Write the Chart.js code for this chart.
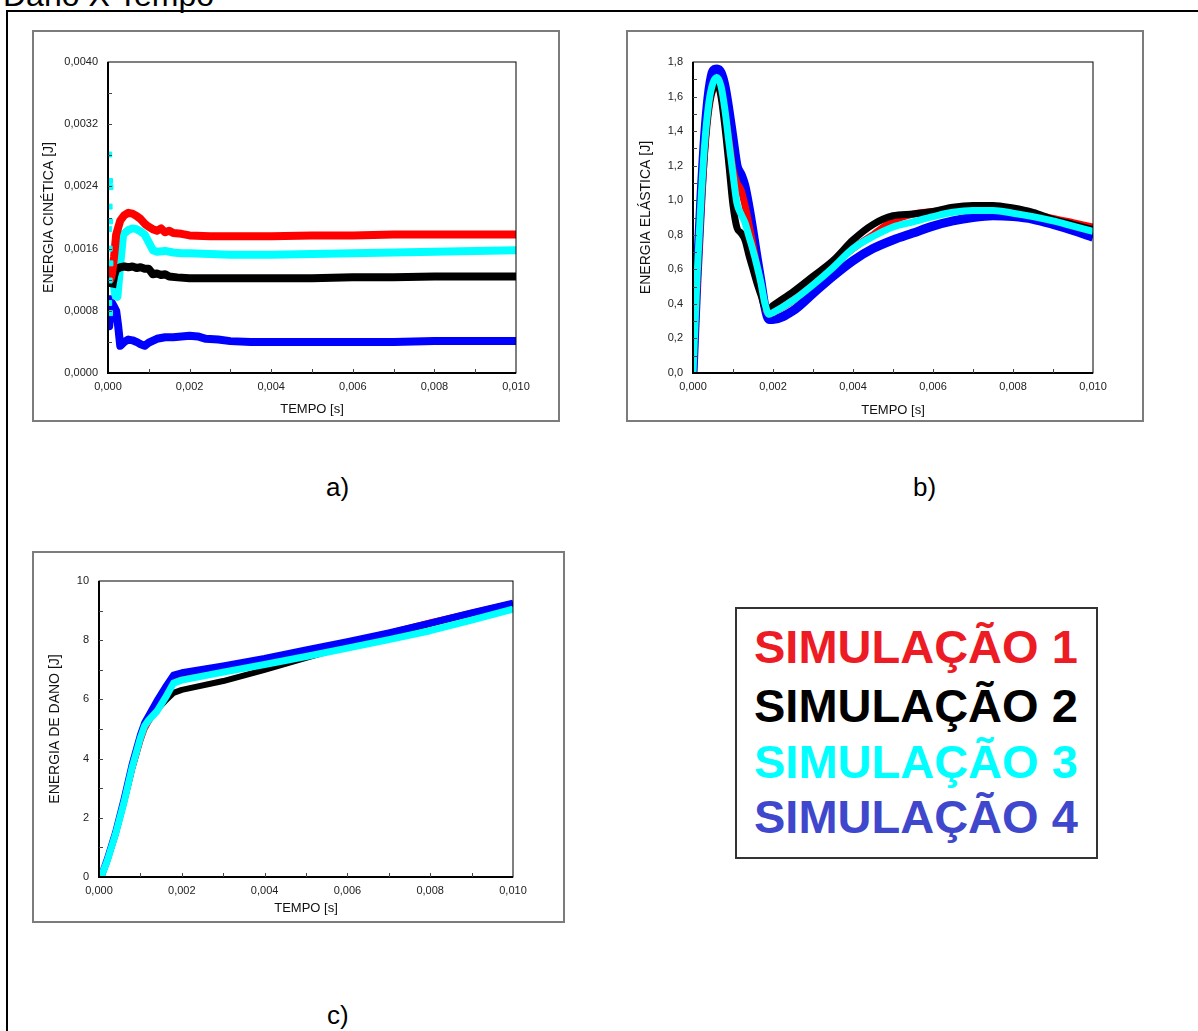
<!DOCTYPE html>
<html>
<head>
<meta charset="utf-8">
<script src="https://cdn.jsdelivr.net/npm/chart.js@4.4.1/dist/chart.umd.min.js"></script>
<style>
body { margin: 0; background: #fff; font-family: "Liberation Sans", Arial, sans-serif; }
#page { position: relative; width: 1198px; height: 1031px; overflow: hidden; background: #fff; }
.frame { position: absolute; left: 6px; top: 10px; width: 1210px; height: 1050px; border: 2px solid #000; }
.box { position: absolute; border: 2px solid #7c7c7c; box-sizing: border-box; }
canvas { position: absolute; }
.txt { position: absolute; white-space: nowrap; line-height: 1; color: #000; }
.leg { position: absolute; left: 754px; font-weight: bold; font-size: 47px; line-height: 1; white-space: nowrap; }
</style>
</head>
<body>
<div id="page">
  <div class="frame"></div>
  <div class="txt" style="left:3px; top:-21px; font-size:32px;">Dano X Tempo</div>

  <div class="box" style="left:32px; top:30px; width:528px; height:392px;"></div>
  <canvas id="kinChart" width="527" height="391" style="left:32px; top:30px;"></canvas>

  <div class="box" style="left:626px; top:30px; width:518px; height:392px;"></div>
  <canvas id="elasChart" width="517" height="391" style="left:626px; top:30px;"></canvas>

  <div class="box" style="left:32px; top:551px; width:533px; height:372px;"></div>
  <canvas id="damChart" width="532" height="371" style="left:32px; top:551px;"></canvas>

  <div class="txt" style="left:326px; top:474px; font-size:26px;">a)</div>
  <div class="txt" style="left:913px; top:474px; font-size:26px;">b)</div>
  <div class="txt" style="left:327px; top:1002px; font-size:26px;">c)</div>

  <div class="box" style="left:735px; top:607px; width:363px; height:252px; border-color:#333;"></div>
  <div class="leg" style="top:623px; color:#ed1c24;">SIMULAÇÃO 1</div>
  <div class="leg" style="top:682px; color:#000;">SIMULAÇÃO 2</div>
  <div class="leg" style="top:738px; color:#00ffff;">SIMULAÇÃO 3</div>
  <div class="leg" style="top:793px; color:#3f48cc;">SIMULAÇÃO 4</div>
</div>

<script>
// tempo / time axis shared by all three charts
const timeTicks = [0, 0.002, 0.004, 0.006, 0.008, 0.010];
const timeLabels = ["0,000", "0,002", "0,004", "0,006", "0,008", "0,010"];

// a) energia cinetica
const kinTicks = [0, 0.0008, 0.0016, 0.0024, 0.0032, 0.0040];
const kinLabels = ["0,0000", "0,0008", "0,0016", "0,0024", "0,0032", "0,0040"];

const kinTime1 = [0.00005, 0.0001, 0.00015, 0.0002, 0.0003, 0.0004, 0.0005, 0.0006, 0.0007, 0.0008, 0.0009, 0.001, 0.0011, 0.0012, 0.0013, 0.0014, 0.0015, 0.0016, 0.0018, 0.002, 0.0025, 0.003, 0.004, 0.005, 0.006, 0.007, 0.008, 0.009, 0.01];
const kinSim1 = [0.00118, 0.00128, 0.0015, 0.00178, 0.00196, 0.00203, 0.00206, 0.00205, 0.00202, 0.00198, 0.00192, 0.00188, 0.00185, 0.00183, 0.00186, 0.00181, 0.00183, 0.0018, 0.00179, 0.00177, 0.00176, 0.00176, 0.00176, 0.00177, 0.00177, 0.00178, 0.00178, 0.00178, 0.00178];

const kinTime2 = [0.0001, 0.00015, 0.0002, 0.0003, 0.0004, 0.0005, 0.0006, 0.0007, 0.0008, 0.0009, 0.001, 0.0011, 0.0012, 0.0013, 0.0014, 0.0015, 0.0017, 0.002, 0.003, 0.004, 0.005, 0.006, 0.007, 0.008, 0.009, 0.01];
const kinSim2 = [0.0011, 0.00125, 0.00133, 0.00136, 0.00137, 0.00136, 0.00137, 0.00135, 0.00136, 0.00134, 0.00134, 0.00127, 0.00128, 0.00126, 0.00127, 0.00124, 0.00123, 0.00122, 0.00122, 0.00122, 0.00122, 0.00123, 0.00123, 0.00124, 0.00124, 0.00124];

const kinTime3 = [0.00012, 0.00018, 0.00023, 0.0003, 0.00037, 0.0005, 0.0006, 0.0007, 0.0008, 0.0009, 0.001, 0.0011, 0.0012, 0.0014, 0.0016, 0.0018, 0.002, 0.0025, 0.003, 0.004, 0.005, 0.006, 0.007, 0.008, 0.009, 0.01];
const kinSim3 = [0.0012, 0.001, 0.00098, 0.0014, 0.00178, 0.00184, 0.00186, 0.00185, 0.00182, 0.00178, 0.00168, 0.00158, 0.00156, 0.00157, 0.00155, 0.00154, 0.00154, 0.00153, 0.00152, 0.00152, 0.00153, 0.00154, 0.00155, 0.00156, 0.00157, 0.00158];
const kinMarkTime3 = [0.00003, 0.00005, 0.00006, 0.00004, 0.00005, 0.00003, 0.00004, 0.00006, 0.00004, 0.00003, 0.00005];
const kinMark3 = [0.00281, 0.00247, 0.00239, 0.00214, 0.00195, 0.00185, 0.0016, 0.00141, 0.00119, 0.0009, 0.00077];

const kinTime4 = [0.00001, 0.00003, 0.00006, 0.0001, 0.00015, 0.0002, 0.00025, 0.0003, 0.0004, 0.0005, 0.0006, 0.0007, 0.0008, 0.0009, 0.001, 0.0012, 0.0014, 0.0016, 0.0018, 0.002, 0.0022, 0.0024, 0.0027, 0.003, 0.0035, 0.004, 0.005, 0.006, 0.007, 0.008, 0.009, 0.01];
const kinSim4 = [0.001, 0.0006, 0.00085, 0.0009, 0.00085, 0.0008, 0.0006, 0.00035, 0.0004, 0.00043, 0.00042, 0.0004, 0.00037, 0.00035, 0.00039, 0.00044, 0.00046, 0.00046, 0.00047, 0.00048, 0.00047, 0.00044, 0.00043, 0.00041, 0.0004, 0.0004, 0.0004, 0.0004, 0.0004, 0.00041, 0.00041, 0.00041];

// b) energia elastica
const elasTicks = [0, 0.2, 0.4, 0.6, 0.8, 1.0, 1.2, 1.4, 1.6, 1.8];
const elasLabels = ["0,0", "0,2", "0,4", "0,6", "0,8", "1,0", "1,2", "1,4", "1,6", "1,8"];
const elasTime = [0, 0.0001, 0.0002, 0.0003, 0.0004, 0.0005, 0.0006, 0.0007, 0.0008, 0.0009, 0.001, 0.0011, 0.0012, 0.0013, 0.0014, 0.0015, 0.0016, 0.0017, 0.0018, 0.0019, 0.002,
  0.0025, 0.003, 0.0035, 0.004, 0.0045, 0.005, 0.0055, 0.006, 0.0065, 0.007, 0.0075, 0.008, 0.0085, 0.009, 0.0095, 0.01];
const elasSim1 = [0, 0.5, 0.95, 1.3, 1.53, 1.64, 1.66, 1.62, 1.5, 1.35, 1.18, 1.1, 1.06, 0.97, 0.86, 0.74, 0.62, 0.5, 0.38, 0.34, 0.35,
  0.42, 0.52, 0.62, 0.72, 0.8, 0.88, 0.92, 0.935, 0.945, 0.95, 0.945, 0.935, 0.915, 0.895, 0.87, 0.845];
const elasSim2 = [0, 0.55, 1.0, 1.33, 1.55, 1.65, 1.68, 1.6, 1.42, 1.2, 0.97, 0.84, 0.81, 0.77, 0.68, 0.6, 0.52, 0.45, 0.38, 0.37, 0.39,
  0.47, 0.56, 0.65, 0.77, 0.86, 0.91, 0.92, 0.935, 0.96, 0.97, 0.97, 0.955, 0.93, 0.89, 0.86, 0.83];
const elasSim3 = [0, 0.55, 1.0, 1.35, 1.57, 1.68, 1.71, 1.66, 1.52, 1.33, 1.15, 0.98, 0.92, 0.87, 0.79, 0.71, 0.62, 0.52, 0.4, 0.34, 0.35,
  0.42, 0.51, 0.61, 0.72, 0.79, 0.845, 0.875, 0.905, 0.93, 0.94, 0.94, 0.925, 0.905, 0.88, 0.85, 0.82];
const elasSim4 = [0, 0.55, 1.02, 1.4, 1.64, 1.75, 1.76, 1.74, 1.66, 1.52, 1.36, 1.2, 1.15, 1.08, 0.96, 0.82, 0.67, 0.53, 0.38, 0.31, 0.31,
  0.36, 0.46, 0.56, 0.65, 0.72, 0.77, 0.81, 0.85, 0.88, 0.9, 0.91, 0.905, 0.89, 0.86, 0.825, 0.785];

// c) energia de dano
const damTicks = [0, 2, 4, 6, 8, 10];
const damLabels = ["0", "2", "4", "6", "8", "10"];
const damTime = [0.00005, 0.0002, 0.0004, 0.0006, 0.0008, 0.001, 0.0011, 0.0012, 0.0014, 0.0016, 0.0018, 0.002, 0.003, 0.004, 0.005, 0.006, 0.007, 0.008, 0.009, 0.01];
const damSim1 = [0, 0.55, 1.45, 2.5, 3.65, 4.6, 5.0, 5.25, 5.7, 6.2, 6.68, 6.78, 7.05, 7.32, 7.62, 7.93, 8.25, 8.6, 8.93, 9.25];
const damSim2 = [0, 0.55, 1.45, 2.5, 3.65, 4.65, 5.05, 5.3, 5.65, 5.95, 6.22, 6.32, 6.62, 7.0, 7.4, 7.8, 8.18, 8.55, 8.9, 9.22];
const damSim3 = [0, 0.55, 1.45, 2.5, 3.7, 4.7, 5.1, 5.3, 5.6, 6.05, 6.55, 6.65, 6.92, 7.18, 7.45, 7.73, 8.02, 8.32, 8.68, 9.05];
const damSim4 = [0, 0.6, 1.5, 2.6, 3.8, 4.8, 5.2, 5.45, 5.95, 6.4, 6.82, 6.9, 7.13, 7.38, 7.67, 7.95, 8.25, 8.58, 8.92, 9.25];

const RED = "#ff0000", BLACK = "#000000", CYAN = "#00ffff", BLUE = "#0000ff";

Chart.defaults.font.family = '"Liberation Sans", Arial, sans-serif';
Chart.defaults.color = "#222";
Chart.defaults.animation = false;

function points(times, values) {
  return times.map((t, i) => ({ x: t, y: values[i] }));
}

function line(times, values, color, width, order, tension) {
  return {
    data: points(times, values),
    borderColor: color,
    backgroundColor: color,
    borderWidth: width,
    pointRadius: 0,
    tension: tension || 0,
    cubicInterpolationMode: tension ? "monotone" : "default",
    borderJoinStyle: "round",
    order: order
  };
}

// plot frame plus the small inward tick marks
const framePlugin = {
  id: "frame",
  afterDatasetsDraw(chart, args, opts) {
    const { ctx, chartArea: a, scales: { x, y } } = chart;
    ctx.save();
    ctx.strokeStyle = "#000";
    ctx.lineWidth = 1;
    ctx.strokeRect(a.left, a.top, a.right - a.left, a.bottom - a.top);
    ctx.lineWidth = 2;
    ctx.beginPath();
    ctx.moveTo(a.left, a.top);
    ctx.lineTo(a.left, a.bottom);
    ctx.lineTo(a.right, a.bottom);
    ctx.stroke();
    ctx.lineWidth = 1;
    ctx.strokeStyle = "#444";
    ctx.beginPath();
    let n = Math.round((x.max - x.min) / opts.xStep);
    for (let i = 1; i < n; i++) {
      const px = Math.round(x.getPixelForValue(x.min + i * opts.xStep)) + 0.5;
      ctx.moveTo(px, a.bottom);
      ctx.lineTo(px, a.bottom - 4);
    }
    n = Math.round((y.max - y.min) / opts.yStep);
    for (let i = 1; i < n; i++) {
      const py = Math.round(y.getPixelForValue(y.min + i * opts.yStep)) + 0.5;
      ctx.moveTo(a.left, py);
      ctx.lineTo(a.left + 4, py);
    }
    ctx.stroke();
    ctx.restore();
  }
};

function makeChart(id, datasets, cfg) {
  return new Chart(document.getElementById(id), {
    type: "line",
    data: { datasets: datasets },
    options: {
      responsive: false,
      layout: { padding: cfg.pad },
      plugins: {
        legend: { display: false },
        tooltip: { enabled: false },
        frame: { xStep: 0.001, yStep: cfg.yStep }
      },
      scales: {
        x: {
          type: "linear",
          min: 0,
          max: 0.01,
          grid: { display: false, drawTicks: false },
          border: { display: false },
          afterBuildTicks: s => { s.ticks = timeTicks.map(v => ({ value: v })); },
          afterFit: s => { s.height = cfg.xHeight; },
          ticks: {
            padding: 7,
            maxRotation: 0,
            font: { size: 11 },
            color: "#222",
            callback: (v, i) => timeLabels[i]
          },
          title: {
            display: true,
            text: "TEMPO [s]",
            color: "#111",
            font: { size: 13 },
            padding: { top: 0, bottom: cfg.xTitlePad }
          }
        },
        y: {
          type: "linear",
          min: cfg.yTicks[0],
          max: cfg.yTicks[cfg.yTicks.length - 1],
          grid: { display: false, drawTicks: false },
          border: { display: false },
          afterBuildTicks: s => { s.ticks = cfg.yTicks.map(v => ({ value: v })); },
          afterFit: s => { s.width = cfg.yWidth; },
          ticks: {
            padding: 10,
            font: { size: 11 },
            color: "#222",
            callback: (v, i) => cfg.yLabels[i]
          },
          title: {
            display: true,
            text: cfg.yTitle,
            color: "#111",
            font: { size: 14 },
            padding: { top: cfg.yTitlePad, bottom: 0 }
          }
        }
      }
    },
    plugins: [framePlugin]
  });
}

const kinMarks = {
  data: points(kinMarkTime3, kinMark3),
  showLine: false,
  pointStyle: "rect",
  pointRadius: 3.5,
  pointBackgroundColor: CYAN,
  pointBorderColor: CYAN,
  borderColor: CYAN,
  order: 0
};

makeChart("kinChart", [
  line(kinTime1, kinSim1, RED, 8, 1),
  line(kinTime2, kinSim2, BLACK, 8, 1),
  line(kinTime3, kinSim3, CYAN, 8, 1),
  line(kinTime4, kinSim4, BLUE, 8, 1),
  kinMarks
], {
  pad: { left: 0, top: 32, right: 43, bottom: 0 },
  yTicks: kinTicks, yLabels: kinLabels, yStep: 0.0004,
  yTitle: "ENERGIA CINÉTICA [J]",
  yWidth: 76, xHeight: 48, yTitlePad: 9, xTitlePad: 4
});

makeChart("elasChart", [
  line(elasTime, elasSim4, BLUE, 9, 3, 0.4),
  line(elasTime, elasSim1, RED, 7, 2, 0.4),
  line(elasTime, elasSim2, BLACK, 7, 1, 0.4),
  line(elasTime, elasSim3, CYAN, 7, 0, 0.4)
], {
  pad: { left: 0, top: 32, right: 50, bottom: 0 },
  yTicks: elasTicks, yLabels: elasLabels, yStep: 0.1,
  yTitle: "ENERGIA ELÁSTICA [J]",
  yWidth: 67, xHeight: 48, yTitlePad: 12, xTitlePad: 3
});

makeChart("damChart", [
  line(damTime, damSim2, BLACK, 6, 3),
  line(damTime, damSim1, RED, 6, 2),
  line(damTime, damSim4, BLUE, 7, 1),
  line(damTime, damSim3, CYAN, 7, 0)
], {
  pad: { left: 0, top: 30, right: 51, bottom: 0 },
  yTicks: damTicks, yLabels: damLabels, yStep: 1,
  yTitle: "ENERGIA DE DANO [J]",
  yWidth: 67, xHeight: 45, yTitlePad: 15, xTitlePad: 6
});
</script>
</body>
</html>
